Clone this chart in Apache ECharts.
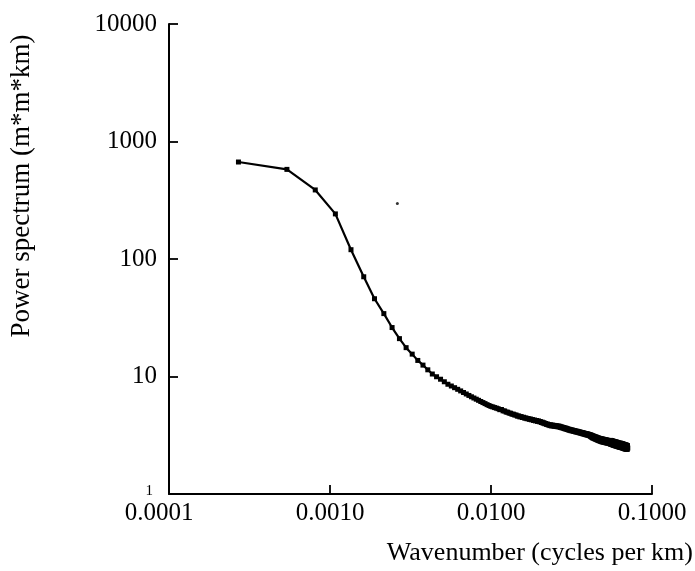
<!DOCTYPE html>
<html><head><meta charset="utf-8">
<script src="https://cdn.jsdelivr.net/npm/echarts@6/dist/echarts.min.js"></script>
<style>html,body{margin:0;padding:0;background:#fff}#chart{width:695px;height:571px}</style>
</head><body><div id="chart"></div>
<script>
// Wavenumber grid step (cycles per km); point k sits at k * step
const wavenumberStep = 0.00027;
// Power spectrum values (m*m*km), one per wavenumber
const power = [
  669, 579, 387, 242, 120, 70.6, 45.9, 34.3, 26.1, 21.0,
  17.6, 15.5, 13.7, 12.5, 11.4, 10.5, 9.95, 9.48, 9.02, 8.59,
  8.30, 8.03, 7.78, 7.54, 7.31, 7.10, 6.90, 6.72, 6.56, 6.41,
  6.27, 6.13, 6.00, 5.88, 5.76, 5.66, 5.57, 5.51, 5.44, 5.38,
  5.32, 5.22, 5.24, 5.10, 5.09, 4.98, 4.97, 4.88, 4.87, 4.78,
  4.78, 4.70, 4.70, 4.60, 4.62, 4.53, 4.56, 4.48, 4.50, 4.42,
  4.44, 4.37, 4.39, 4.32, 4.35, 4.28, 4.30, 4.23, 4.26, 4.19,
  4.22, 4.15, 4.19, 4.12, 4.14, 4.06, 4.09, 4.01, 4.04, 3.96,
  3.98, 3.91, 3.94, 3.87, 3.89, 3.82, 3.88, 3.80, 3.86, 3.79,
  3.84, 3.77, 3.82, 3.75, 3.81, 3.74, 3.79, 3.72, 3.77, 3.69,
  3.74, 3.66, 3.70, 3.63, 3.68, 3.60, 3.65, 3.57, 3.62, 3.54,
  3.59, 3.51, 3.56, 3.49, 3.54, 3.46, 3.51, 3.45, 3.50, 3.42,
  3.47, 3.41, 3.46, 3.38, 3.43, 3.37, 3.42, 3.35, 3.40, 3.33,
  3.38, 3.31, 3.36, 3.29, 3.34, 3.27, 3.33, 3.25, 3.31, 3.24,
  3.29, 3.21, 3.27, 3.20, 3.26, 3.18, 3.25, 3.17, 3.23, 3.15,
  3.21, 3.13, 3.20, 3.08, 3.17, 3.05, 3.15, 3.01, 3.13, 2.99,
  3.10, 2.97, 3.08, 2.94, 3.06, 2.92, 3.05, 2.90, 3.02, 2.88,
  3.01, 2.86, 2.99, 2.84, 2.97, 2.83, 2.96, 2.80, 2.95, 2.79,
  2.94, 2.78, 2.93, 2.77, 2.92, 2.76, 2.91, 2.75, 2.90, 2.74,
  2.89, 2.73, 2.88, 2.72, 2.87, 2.72, 2.86, 2.71, 2.85, 2.70,
  2.84, 2.70, 2.83, 2.66, 2.86, 2.65, 2.85, 2.64, 2.84, 2.63,
  2.82, 2.61, 2.81, 2.60, 2.80, 2.59, 2.79, 2.58, 2.78, 2.57,
  2.77, 2.56, 2.76, 2.55, 2.75, 2.54, 2.73, 2.53, 2.72, 2.52,
  2.71, 2.51, 2.70, 2.50, 2.71, 2.50, 2.70, 2.49, 2.69, 2.48,
  2.68, 2.47, 2.67, 2.46, 2.66, 2.45, 2.65, 2.44, 2.64, 2.43,
  2.63, 2.42, 2.62, 2.42, 2.61, 2.41, 2.60, 2.41, 2.59, 2.40,
  2.58, 2.46
];
// isolated speck in the plot area
const strayWavenumber = [0.00262];
const strayPower = [296];
const xTickLabels = ['0.0001', '0.0010', '0.0100', '0.1000'];
const yTickLabels = ['1', '10', '100', '1000', '10000'];
const xTitle = 'Wavenumber (cycles per km)';
const yTitle = 'Power spectrum (m*m*km)';

const FONT = "'Liberation Serif', 'Times New Roman', serif";
const chart = echarts.init(document.getElementById('chart'), null, {renderer: 'canvas'});
const lineData = power.map((v, i) => [(i + 1) * wavenumberStep, v]);
const strayData = strayWavenumber.map((x, i) => [x, strayPower[i]]);

chart.setOption({
  animation: false,
  backgroundColor: '#fff',
  grid: {left: 169, right: 43, top: 24, bottom: 77, containLabel: false},
  xAxis: {
    type: 'log', logBase: 10, min: 0.0001, max: 0.1, splitNumber: 3,
    axisLine: {lineStyle: {color: '#000', width: 2}},
    axisTick: {inside: true, length: 9, lineStyle: {color: '#000', width: 1.8}},
    splitLine: {show: false},
    minorTick: {show: false},
    axisLabel: {
      margin: 7, fontSize: 25, color: '#000', fontFamily: FONT,
      showMinLabel: true, showMaxLabel: true,
      formatter: v => {
        const i = Math.round(Math.log10(v)) + 4;
        return i === 0 ? '{a|' + xTickLabels[0] + '}' : xTickLabels[i];
      },
      rich: {a: {fontSize: 25, fontFamily: FONT, color: '#000', padding: [0, 20, 0, 0]}}
    }
  },
  yAxis: {
    type: 'log', logBase: 10, min: 1, max: 10000, splitNumber: 4,
    axisLine: {lineStyle: {color: '#000', width: 2}},
    axisTick: {inside: true, length: 9, lineStyle: {color: '#000', width: 1.8}},
    splitLine: {show: false},
    axisLabel: {
      margin: 12, fontSize: 25, color: '#000', fontFamily: FONT,
      showMinLabel: true, showMaxLabel: true,
      formatter: v => {
        const i = Math.round(Math.log10(v));
        return i === 0 ? '{s|' + yTickLabels[0] + '}' : yTickLabels[i];
      },
      rich: {s: {fontSize: 15, fontFamily: FONT, color: '#000', padding: [0, 4, 6, 0]}}
    }
  },
  graphic: [
    {type: 'text', x: 693, y: 553, silent: true,
     style: {text: xTitle, font: '26px ' + FONT, fill: '#000', align: 'right', verticalAlign: 'middle'}},
    {type: 'text', x: 22, y: 186, rotation: Math.PI / 2, silent: true,
     style: {text: yTitle, font: '27px ' + FONT, fill: '#000', align: 'center', verticalAlign: 'middle'}}
  ],
  series: [
    {
      type: 'line', data: lineData, symbol: 'rect', symbolSize: 5, showSymbol: true,
      lineStyle: {color: '#000', width: 2.2}, itemStyle: {color: '#000'}
    },
    {
      type: 'scatter', data: strayData, symbol: 'circle', symbolSize: 3,
      itemStyle: {color: '#000'}
    }
  ]
});
</script>
</body></html>
